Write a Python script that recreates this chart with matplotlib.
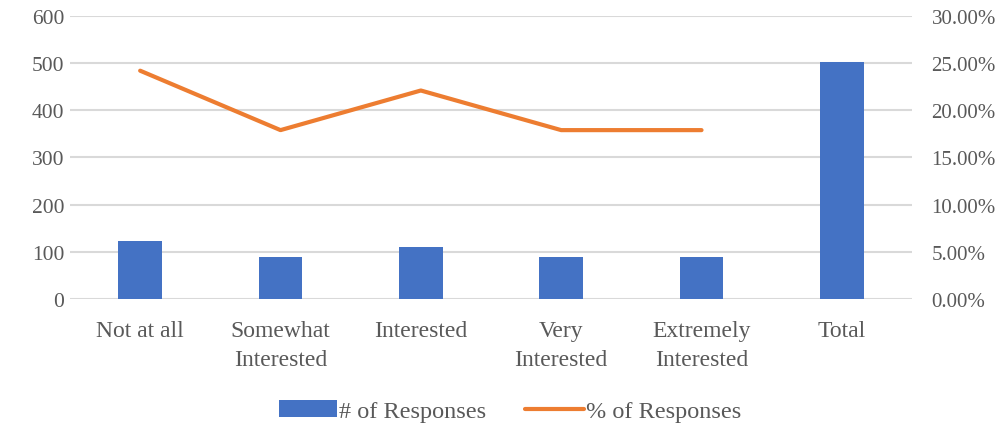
import matplotlib.pyplot as plt
from matplotlib.ticker import FuncFormatter

categories = ["Not at all", "Somewhat\nInterested", "Interested", "Very\nInterested",
              "Extremely\nInterested", "Total"]
responses = [122, 90, 111, 90, 90, 502]
pct_categories = categories[:5]
pct_responses = [24.2, 17.9, 22.1, 17.9, 17.9]

blue = "#4472C4"
orange = "#ED7D31"
grey = "#595959"

plt.rcParams['font.family'] = ['Liberation Serif', 'DejaVu Serif']

fig = plt.figure(figsize=(10.04, 4.31), dpi=100)
ax = fig.add_axes([0.0697, 0.304, 0.8387, 0.6566])
ax2 = ax.twinx()

x = list(range(len(categories)))
ax.bar(x, responses, width=0.31, color=blue, zorder=3, label="# of Responses")
ax2.plot(range(len(pct_categories)), [p / 100 for p in pct_responses], color=orange,
         linewidth=3, solid_capstyle='round', label="% of Responses", zorder=4)

ax.set_xlim(-0.5, len(categories) - 0.5)
ax.set_ylim(0, 600)
ax.set_yticks(range(0, 601, 100))
ax2.set_ylim(0, 0.30)
ax2.set_yticks([i * 0.05 for i in range(7)])
ax2.yaxis.set_major_formatter(FuncFormatter(lambda v, p: "%.2f%%" % (v * 100)))

ax.set_xticks(x)
ax.set_xticklabels(categories)
for lbl in ax.get_xticklabels():
    lbl.set_linespacing(1.5)

ax.grid(True, axis='y', color='#d9d9d9', linewidth=1.5, zorder=0)
ax.set_axisbelow(True)
for a in (ax, ax2):
    for s in a.spines.values():
        s.set_visible(False)
ax.tick_params(axis='x', length=0, pad=15, labelsize=17, labelcolor=grey)
ax.tick_params(axis='y', length=0, pad=4, labelsize=15.5, labelcolor=grey)
ax2.tick_params(axis='y', length=0, pad=14, labelsize=15, labelcolor=grey)

h1, l1 = ax.get_legend_handles_labels()
h2, l2 = ax2.get_legend_handles_labels()
fig.legend(h1 + h2, l1 + l2, loc='center', bbox_to_anchor=(0.508, 0.044), ncol=2,
           frameon=False, fontsize=17.5, labelcolor=grey, handlelength=2.4,
           handleheight=0.7, handletextpad=0.1, columnspacing=1.6)

fig.savefig("out.png", dpi=100)
